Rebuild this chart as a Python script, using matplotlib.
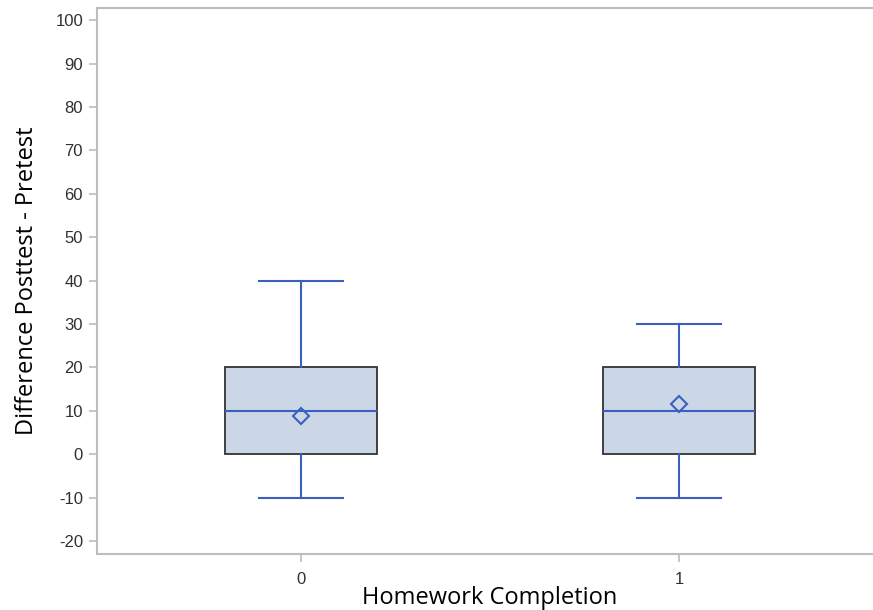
import matplotlib
matplotlib.use("Agg")
import matplotlib.pyplot as plt

plt.rcParams["axes.unicode_minus"] = False

# box summary per homework group
groups = ["0", "1"]
q1 = [0, 0]
medians = [10, 10]
q3 = [20, 20]
whis_lo = [-10, -10]
whis_hi = [40, 30]
means = [8.7, 11.5]

stats = []
for i in range(len(groups)):
    stats.append({
        "label": groups[i],
        "q1": q1[i], "med": medians[i], "q3": q3[i],
        "whislo": whis_lo[i], "whishi": whis_hi[i],
        "mean": means[i],
    })

fig = plt.figure(figsize=(8.73, 6.10), dpi=100)
ax = fig.add_axes([97 / 873, 56 / 610, 786 / 873, 546 / 610])

blue = "#3a5fbf"
gray = "#b9bebe"

ax.bxp(stats, positions=[0, 1], widths=0.4, showmeans=True, showfliers=False,
       patch_artist=True,
       boxprops=dict(facecolor="#cbd6e6", edgecolor="#333333", linewidth=1.3),
       medianprops=dict(color=blue, linewidth=1.5),
       whiskerprops=dict(color=blue, linewidth=1.5),
       capprops=dict(color=blue, linewidth=1.5),
       capwidths=0.22,
       meanprops=dict(marker="D", markerfacecolor="none", markeredgecolor=blue,
                      markersize=8, markeredgewidth=1.5))

ax.set_xlim(-0.54, 1.54)
ax.set_ylim(-23.0, 102.8)
ax.set_yticks(range(-20, 101, 10))
ax.set_xticks([0, 1])
ax.set_xticklabels(groups)

for s in ax.spines.values():
    s.set_color(gray)
    s.set_linewidth(1.5)

ax.tick_params(colors=gray, labelcolor="#303030", length=6, width=1.2,
               labelsize=12)
ax.tick_params(axis="y", pad=4)
ax.tick_params(axis="x", pad=7)
for lab in ax.get_xticklabels() + ax.get_yticklabels():
    lab.set_family("Liberation Sans")

ax.set_xlabel("Homework Completion", fontsize=17, family="Open Sans",
              labelpad=-1)
ax.set_ylabel("Difference Posttest - Pretest", fontsize=17, family="Open Sans",
              labelpad=12)

fig.savefig("out.png", dpi=100)
